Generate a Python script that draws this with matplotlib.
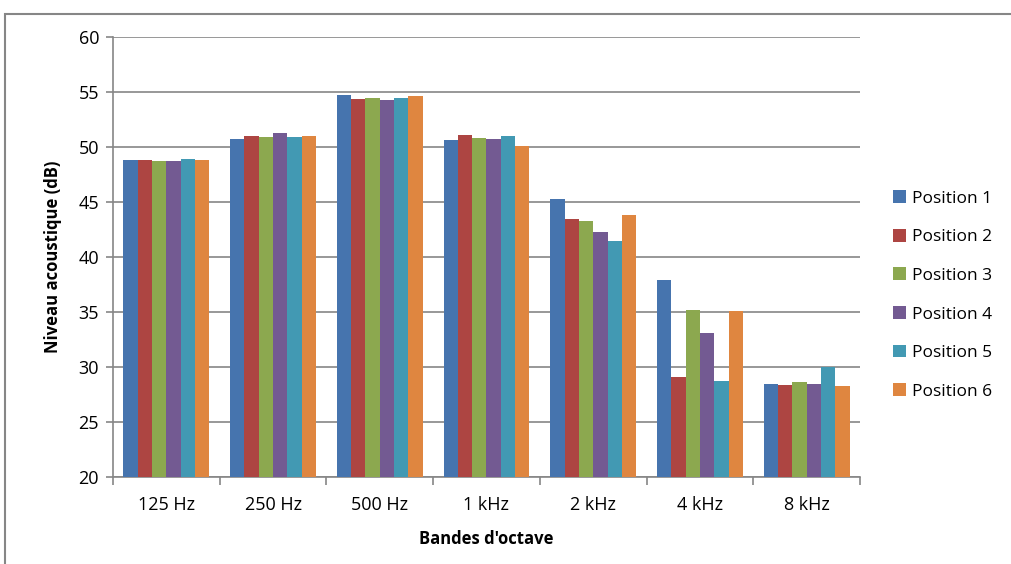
import numpy as np
import matplotlib
matplotlib.use('Agg')
import matplotlib.pyplot as plt
from matplotlib.patches import Rectangle

# Octave bands and measured levels (dB) for each microphone position
bands = ['125 Hz', '250 Hz', '500 Hz', '1 kHz', '2 kHz', '4 kHz', '8 kHz']
position_1 = [48.8, 50.7, 54.7, 50.6, 45.3, 37.9, 28.5]
position_2 = [48.8, 51.0, 54.4, 51.1, 43.45, 29.1, 28.4]
position_3 = [48.7, 50.9, 54.5, 50.8, 43.3, 35.2, 28.6]
position_4 = [48.7, 51.3, 54.3, 50.7, 42.3, 33.1, 28.5]
position_5 = [48.9, 50.9, 54.5, 51.0, 41.5, 28.7, 30.0]
position_6 = [48.8, 51.0, 54.6, 50.1, 43.8, 35.1, 28.3]
series_names = ['Position 1', 'Position 2', 'Position 3',
                'Position 4', 'Position 5', 'Position 6']
yticks = [20, 25, 30, 35, 40, 45, 50, 55, 60]

series = [position_1, position_2, position_3, position_4, position_5, position_6]
colors = ['#4674AE', '#AD4542', '#8CA84F', '#735A92', '#4299B3', '#DF8640']

plt.rcParams['font.family'] = ['Open Sans', 'DejaVu Sans']

fig = plt.figure(figsize=(10.12, 5.64), dpi=100)
ax = fig.add_axes([113 / 1012, 1 - 477 / 564, (860 - 113) / 1012, (477 - 37) / 564])

# outer chart border (Excel chart area), runs off the right / bottom edge
fig.patches.append(Rectangle((5.5 / 1012, -0.1), 1.2, 1.1 - 13.5 / 564,
                             transform=fig.transFigure, fill=False,
                             edgecolor='#868686', linewidth=1.5))

x = np.arange(len(bands))
bar_w = 0.134
for i, (vals, name) in enumerate(zip(series, series_names)):
    offs = (i - 2.5) * bar_w
    ax.bar(x + offs, np.array(vals) - 20, bar_w, bottom=20, color=colors[i],
           label=name, zorder=3)

ax.set_xlim(-0.5, len(bands) - 0.5)
ax.set_ylim(20, 60)
ax.set_yticks(yticks)
ax.yaxis.grid(True, color='#868686', linewidth=1.2, zorder=0)
ax.set_axisbelow(True)

ax.set_xticks(x)
ax.set_xticklabels(bands)
ax.set_xticks(np.arange(len(bands) + 1) - 0.5, minor=True)
ax.tick_params(axis='x', which='major', length=0, pad=14, labelsize=13)
ax.tick_params(axis='x', which='minor', length=6, color='#868686', width=1.2)
ax.tick_params(axis='y', length=5, color='#868686', width=1.2, labelsize=13, pad=5)

for s in ['top', 'right']:
    ax.spines[s].set_visible(False)
for s in ['left', 'bottom']:
    ax.spines[s].set_color('#868686')
    ax.spines[s].set_linewidth(1.2)

ax.set_ylabel('Niveau acoustique (dB)', fontsize=12, fontweight='bold', labelpad=12)
ax.set_xlabel("Bandes d'octave", fontsize=12, fontweight='bold', labelpad=11)

fig.legend(loc='center left', bbox_to_anchor=(893 / 1012, 1 - 295 / 564),
           frameon=False, fontsize=12.5, handlelength=0.75, handleheight=0.75,
           labelspacing=1.28, handletextpad=0.35, borderpad=0, borderaxespad=0)

fig.savefig('out.png', dpi=100)
